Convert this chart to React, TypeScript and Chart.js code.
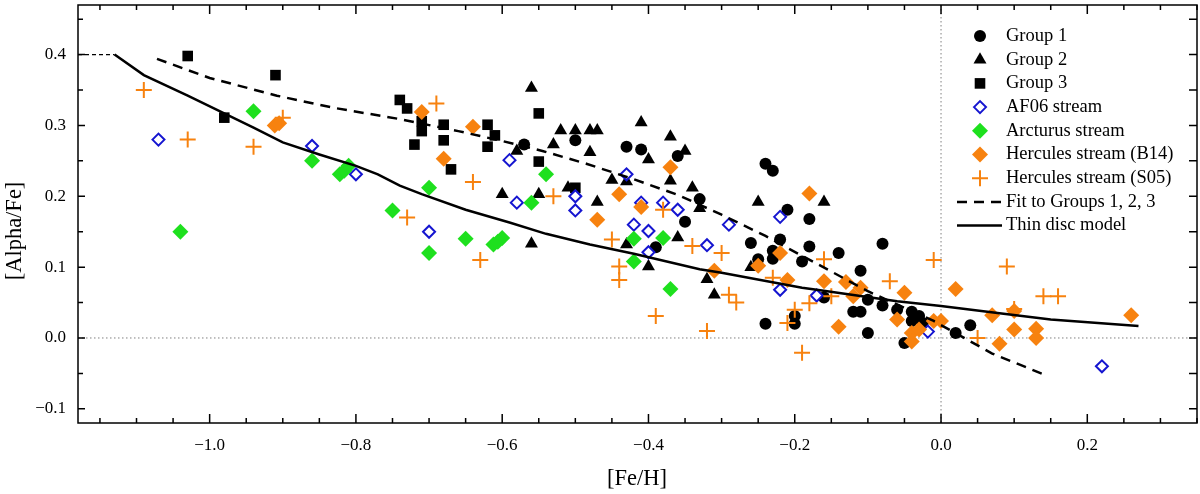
import { useEffect, useRef } from "react"
import { Chart, registerables } from "chart.js"
import { drawPoint } from "chart.js/helpers"

Chart.register(...registerables)

// axis ranges and labelled ticks
const FE_MIN = -1.18
const FE_MAX = 0.35
const ALPHA_MIN = -0.12
const ALPHA_MAX = 0.47
const feTicks = [-1.0, -0.8, -0.6, -0.4, -0.2, 0.0, 0.2]
const alphaTicks = [-0.1, 0.0, 0.1, 0.2, 0.3, 0.4]

// [Fe/H], [Alpha/Fe] pairs
const group1: [number, number][] = [
  [-0.57, 0.273], [-0.5, 0.279], [-0.43, 0.27], [-0.41, 0.266], [-0.36, 0.257],
  [-0.33, 0.196], [-0.35, 0.164], [-0.39, 0.128], [-0.24, 0.246], [-0.23, 0.236],
  [-0.21, 0.181], [-0.26, 0.134], [-0.22, 0.139], [-0.23, 0.123], [-0.23, 0.112],
  [-0.25, 0.111], [-0.24, 0.02], [-0.2, 0.02], [-0.2, 0.031], [-0.18, 0.168],
  [-0.18, 0.129], [-0.19, 0.108], [-0.14, 0.12], [-0.08, 0.133], [-0.11, 0.095],
  [-0.1, 0.054], [-0.08, 0.046], [-0.12, 0.037], [-0.11, 0.037], [-0.1, 0.007],
  [-0.06, 0.04], [-0.04, 0.037], [-0.03, 0.031], [-0.04, 0.024], [-0.025, 0.021],
  [-0.05, -0.007], [-0.16, 0.057], [0.02, 0.007], [0.04, 0.018],
]
const group2: [number, number][] = [
  [-0.56, 0.353], [-0.52, 0.293], [-0.5, 0.293], [-0.48, 0.293], [-0.47, 0.293],
  [-0.53, 0.273], [-0.48, 0.262], [-0.58, 0.264], [-0.6, 0.203], [-0.55, 0.203],
  [-0.51, 0.212], [-0.47, 0.192], [-0.56, 0.133], [-0.41, 0.304], [-0.4, 0.252],
  [-0.37, 0.284], [-0.35, 0.264], [-0.37, 0.222], [-0.34, 0.212], [-0.45, 0.223],
  [-0.43, 0.221], [-0.33, 0.183], [-0.36, 0.142], [-0.43, 0.132], [-0.4, 0.101],
  [-0.32, 0.083], [-0.31, 0.061], [-0.25, 0.192], [-0.16, 0.192], [-0.26, 0.1],
]
const group3: [number, number][] = [
  [-1.03, 0.398], [-0.91, 0.371], [-0.98, 0.311], [-0.74, 0.336], [-0.73, 0.324],
  [-0.71, 0.306], [-0.71, 0.292], [-0.72, 0.273], [-0.68, 0.301], [-0.68, 0.279],
  [-0.67, 0.238], [-0.62, 0.301], [-0.61, 0.286], [-0.62, 0.27], [-0.55, 0.317],
  [-0.55, 0.249], [-0.5, 0.212],
]
const af06: [number, number][] = [
  [-1.07, 0.28], [-0.86, 0.271], [-0.8, 0.231], [-0.7, 0.15], [-0.59, 0.251],
  [-0.58, 0.191], [-0.5, 0.2], [-0.5, 0.18], [-0.43, 0.231], [-0.41, 0.191],
  [-0.38, 0.191], [-0.36, 0.181], [-0.42, 0.16], [-0.4, 0.151], [-0.4, 0.121],
  [-0.32, 0.131], [-0.29, 0.16], [-0.22, 0.171], [-0.22, 0.068], [-0.17, 0.06],
  [-0.018, 0.009], [0.22, -0.04],
]
const arcturus: [number, number][] = [
  [-1.04, 0.15], [-0.94, 0.32], [-0.86, 0.25], [-0.822, 0.231], [-0.816, 0.236],
  [-0.81, 0.243], [-0.75, 0.18], [-0.7, 0.212], [-0.7, 0.12], [-0.65, 0.14],
  [-0.612, 0.132], [-0.6, 0.141], [-0.606, 0.136], [-0.54, 0.231], [-0.56, 0.191],
  [-0.42, 0.14], [-0.38, 0.141], [-0.42, 0.108], [-0.37, 0.069],
]
const herculesB14: [number, number][] = [
  [-0.911, 0.3], [-0.905, 0.303], [-0.71, 0.319], [-0.64, 0.298], [-0.68, 0.253],
  [-0.47, 0.167], [-0.44, 0.203], [-0.41, 0.185], [-0.37, 0.241], [-0.31, 0.095],
  [-0.25, 0.102], [-0.22, 0.12], [-0.21, 0.082], [-0.18, 0.204], [-0.16, 0.08],
  [-0.13, 0.079], [-0.11, 0.071], [-0.12, 0.059], [-0.05, 0.064], [-0.14, 0.016],
  [-0.06, 0.026], [-0.04, 0.007], [-0.04, -0.005], [-0.03, 0.012], [-0.01, 0.024],
  [0.0, 0.024], [0.02, 0.069], [0.07, 0.032], [0.1, 0.038], [0.1, 0.012],
  [0.08, -0.008], [0.13, 0.013], [0.13, 0.0], [0.26, 0.032],
]
const herculesS05: [number, number][] = [
  [-1.09, 0.35], [-1.03, 0.28], [-0.94, 0.27], [-0.9, 0.311], [-0.69, 0.331],
  [-0.64, 0.22], [-0.73, 0.17], [-0.63, 0.11], [-0.53, 0.2], [-0.45, 0.139],
  [-0.44, 0.101], [-0.44, 0.082], [-0.39, 0.031], [-0.34, 0.13], [-0.38, 0.181],
  [-0.3, 0.12], [-0.32, 0.01], [-0.29, 0.061], [-0.28, 0.05], [-0.21, 0.021],
  [-0.2, 0.04], [-0.23, 0.085], [-0.19, -0.021], [-0.18, 0.049], [-0.16, 0.111],
  [-0.15, 0.059], [-0.07, 0.08], [-0.01, 0.11], [0.09, 0.101], [0.14, 0.059],
  [0.16, 0.059], [0.1, 0.041], [0.05, 0.0],
]
const fitGroups: [number, number][] = [
  [-1.072, 0.394], [-1.0, 0.367], [-0.908, 0.342], [-0.831, 0.325], [-0.74, 0.309],
  [-0.66, 0.292], [-0.6, 0.278], [-0.545, 0.264], [-0.485, 0.246], [-0.42, 0.224],
  [-0.36, 0.202], [-0.3, 0.174], [-0.24, 0.144], [-0.19, 0.116], [-0.1, 0.066],
  [-0.01, 0.024], [0.07, -0.022], [0.142, -0.052],
]
const thinDisc: [number, number][] = [
  [-1.18, 0.4], [-1.13, 0.4], [-1.09, 0.371], [-1.03, 0.342], [-0.94, 0.297],
  [-0.9, 0.276], [-0.85, 0.259], [-0.8, 0.243], [-0.77, 0.231], [-0.74, 0.215],
  [-0.71, 0.203], [-0.65, 0.181], [-0.59, 0.163], [-0.54, 0.147], [-0.48, 0.132],
  [-0.42, 0.119], [-0.33, 0.097], [-0.3, 0.092], [-0.19, 0.071], [-0.17, 0.068],
  [-0.06, 0.052], [0.0, 0.045], [0.08, 0.035], [0.15, 0.026], [0.27, 0.017],
]

const SERIF = "'Liberation Serif', 'Times New Roman', serif"
const ORANGE = "#f7820f"
const GREEN = "#1ee01e"
const BLUE = "#1515d0"

const toXY = (pts: [number, number][]) => pts.map(([x, y]) => ({ x, y }))
const fmt = (v: number) => (v < 0 ? "\u2212" : "") + Math.abs(v).toFixed(1)

const framePlugin = {
  id: "frame",
  beforeDatasetsDraw(chart: any) {
    const { ctx, chartArea: a, scales } = chart
    const x0 = scales.x.getPixelForValue(0)
    const y0 = scales.y.getPixelForValue(0)
    ctx.save()
    ctx.strokeStyle = "#808080"
    ctx.lineWidth = 1
    ctx.setLineDash([1.5, 2.5])
    ctx.beginPath()
    ctx.moveTo(a.left, y0)
    ctx.lineTo(a.right, y0)
    ctx.moveTo(x0, a.top)
    ctx.lineTo(x0, a.bottom)
    ctx.stroke()
    ctx.restore()
  },
  afterDatasetsDraw(chart: any) {
    const { ctx, chartArea: a, scales } = chart
    ctx.save()
    ctx.strokeStyle = "#000"
    ctx.lineWidth = 1.5
    ctx.strokeRect(a.left, a.top, a.right - a.left, a.bottom - a.top)
    ctx.beginPath()
    for (let k = Math.ceil(FE_MIN / 0.05); k * 0.05 <= FE_MAX + 1e-9; k++) {
      const px = scales.x.getPixelForValue(k * 0.05)
      const len = k % 4 === 0 ? 9 : 5
      ctx.moveTo(px, a.bottom)
      ctx.lineTo(px, a.bottom - len)
      ctx.moveTo(px, a.top)
      ctx.lineTo(px, a.top + len)
    }
    for (let k = Math.ceil(ALPHA_MIN / 0.05); k * 0.05 <= ALPHA_MAX + 1e-9; k++) {
      const py = scales.y.getPixelForValue(k * 0.05)
      const len = k % 2 === 0 ? 7 : 5
      ctx.moveTo(a.left, py)
      ctx.lineTo(a.left + len, py)
      ctx.moveTo(a.right, py)
      ctx.lineTo(a.right - 8, py)
    }
    ctx.stroke()
    ctx.restore()
  },
  afterDraw(chart: any) {
    const { ctx } = chart
    ctx.save()
    // axis titles
    ctx.fillStyle = "#000"
    ctx.font = `22.5px ${SERIF}`
    ctx.textAlign = "center"
    ctx.textBaseline = "middle"
    ctx.fillText("[Fe/H]", 637, 479)
    ctx.translate(15, 231)
    ctx.rotate(-Math.PI / 2)
    ctx.fillText("[Alpha/Fe]", 0, 0)
    ctx.restore()

    // legend
    ctx.save()
    ctx.font = `18.5px ${SERIF}`
    ctx.textAlign = "left"
    ctx.textBaseline = "middle"
    chart.data.datasets.forEach((ds: any, i: number) => {
      const y = 36 + i * 23.7
      if (ds.showLine) {
        ctx.strokeStyle = ds.borderColor
        ctx.lineWidth = ds.borderWidth
        ctx.setLineDash(ds.borderDash || [])
        ctx.beginPath()
        ctx.moveTo(957, y)
        ctx.lineTo(1002, y)
        ctx.stroke()
        ctx.setLineDash([])
      } else {
        ctx.fillStyle = ds.backgroundColor
        ctx.strokeStyle = ds.borderColor
        ctx.lineWidth = ds.borderWidth
        drawPoint(ctx, { pointStyle: ds.pointStyle, radius: ds.pointRadius, rotation: 0, borderWidth: ds.borderWidth }, 980, y)
      }
      ctx.fillStyle = "#000"
      ctx.fillText(ds.label, 1006, y)
    })
    ctx.restore()
  },
}

function marker(label: string, pts: [number, number][], style: string, radius: number, fill: string, border: string, bw: number, order: number) {
  return {
    label,
    data: toXY(pts),
    pointStyle: style,
    pointRadius: radius,
    backgroundColor: fill,
    borderColor: border,
    borderWidth: bw,
    showLine: false,
    order,
  }
}

export default function App() {
  const chartRef = useRef<HTMLCanvasElement>(null)
  const chartInstance = useRef<Chart | null>(null)

  useEffect(() => {
    document.body.style.margin = "0"
    if (!chartRef.current) return
    if (chartInstance.current) chartInstance.current.destroy()

    chartInstance.current = new Chart(chartRef.current, {
      type: "scatter",
      data: {
        datasets: [
          marker("Group 1", group1, "circle", 6, "#000", "#000", 0, 9),
          marker("Group 2", group2, "triangle", 7.5, "#000", "#000", 0, 8),
          marker("Group 3", group3, "rect", 7.5, "#000", "#000", 0, 7),
          marker("AF06 stream", af06, "rectRot", 6, "#fff", BLUE, 2, 6),
          marker("Arcturus stream", arcturus, "rectRot", 8, GREEN, GREEN, 0, 5),
          marker("Hercules stream (B14)", herculesB14, "rectRot", 8, ORANGE, ORANGE, 0, 4),
          marker("Hercules stream (S05)", herculesS05, "cross", 8, ORANGE, ORANGE, 2, 3),
          {
            label: "Fit to Groups 1, 2, 3",
            data: toXY(fitGroups),
            showLine: true,
            borderColor: "#000",
            borderWidth: 2.5,
            borderDash: [10, 7],
            pointRadius: 0,
            fill: false,
            order: 2,
          },
          {
            label: "Thin disc model",
            data: toXY(thinDisc),
            showLine: true,
            borderColor: "#000",
            borderWidth: 2.5,
            pointRadius: 0,
            fill: false,
            order: 1,
            segment: {
              borderDash: (c: any) => (c.p0DataIndex === 0 ? [4, 3] : undefined),
              borderWidth: (c: any) => (c.p0DataIndex === 0 ? 1.2 : undefined),
            },
          },
        ] as any,
      },
      options: {
        responsive: true,
        maintainAspectRatio: false,
        animation: false,
        layout: { autoPadding: false, padding: { top: 5, right: 3, left: 0, bottom: 0 } },
        plugins: {
          legend: { display: false },
          tooltip: { enabled: false },
        },
        scales: {
          x: {
            type: "linear",
            min: FE_MIN,
            max: FE_MAX,
            grid: { display: false },
            border: { display: false },
            afterBuildTicks: (s: any) => {
              s.ticks = feTicks.map((value) => ({ value }))
            },
            afterFit: (s: any) => {
              s.height = 71
              s.paddingLeft = 0
              s.paddingRight = 0
            },
            ticks: {
              autoSkip: false,
              maxRotation: 0,
              padding: 4,
              color: "#000",
              font: { family: SERIF, size: 17 },
              callback: (v: any) => fmt(Number(v)),
            },
          },
          y: {
            type: "linear",
            min: ALPHA_MIN,
            max: ALPHA_MAX,
            grid: { display: false },
            border: { display: false },
            afterBuildTicks: (s: any) => {
              s.ticks = alphaTicks.map((value) => ({ value }))
            },
            afterFit: (s: any) => {
              s.width = 78
              s.paddingTop = 0
              s.paddingBottom = 0
            },
            ticks: {
              autoSkip: false,
              padding: 4,
              color: "#000",
              font: { family: SERIF, size: 17 },
              callback: (v: any) => fmt(Number(v)),
            },
          },
        },
      },
      plugins: [framePlugin],
    })

    return () => {
      if (chartInstance.current) {
        chartInstance.current.destroy()
        chartInstance.current = null
      }
    }
  }, [])

  return (
    <div style={{ position: "relative", width: 1200, height: 494 }}>
      <canvas ref={chartRef} />
    </div>
  )
}
